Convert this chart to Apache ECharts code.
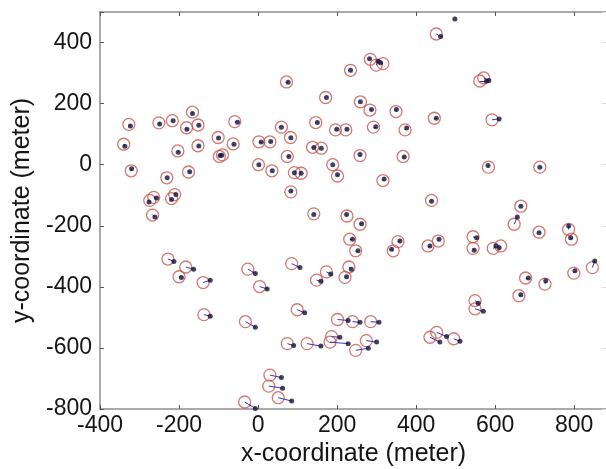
<!DOCTYPE html>
<html>
<head>
<meta charset="utf-8">
<script src="https://cdn.jsdelivr.net/npm/echarts@6/dist/echarts.min.js"></script>
<style>
  html, body { margin: 0; padding: 0; background: #ffffff; }
  #chart { width: 606px; height: 469px; }
</style>
</head>
<body>
<div id="chart"></div>
<script>
// Surveyed node positions (meters): drawn as open red circles
const observed = [
  [-327,132],[-340,67],[-321,-20],[-251,137],[-217,144],[-166,172],[-181,121],[-152,130],
  [-203,45],[-152,62],[-231,-43],[-176,-24],[-101,89],[-59,141],[-63,68],[-98,27],[-90,32],
  [2,75],[30,75],[59,123],[82,89],[72,271],[74,27],[1,0],[35,-20],[92,-26],[109,-28],[83,-89],
  [146,138],[171,220],[138,57],[160,54],[196,114],[222,114],[189,0],[201,-37],
  [451,428],[284,345],[299,326],[316,331],[234,309],[561,274],[571,284],[259,206],[283,179],
  [349,174],[446,152],[592,147],[292,123],[372,114],[258,30],[367,27],[316,-52],[583,-8],[713,-8],
  [-274,-117],[-264,-107],[-219,-111],[-211,-98],[-267,-165],[141,-161],
  [-228,-309],[-183,-335],[-200,-367],[-139,-386],[-137,-491],[-26,-342],[4,-399],[-32,-514],
  [85,-324],[99,-475],[148,-378],[173,-351],[201,-507],[74,-586],[124,-586],[186,-563],[182,-581],
  [30,-689],[27,-725],[51,-763],[-34,-777],
  [439,-117],[225,-168],[258,-195],[232,-244],[247,-282],[230,-335],[220,-369],[342,-282],
  [354,-252],[430,-266],[456,-250],[544,-236],[544,-274],[595,-274],[614,-266],[648,-195],
  [665,-136],[711,-221],[786,-212],[793,-244],[677,-371],[726,-391],[660,-429],[799,-355],
  [846,-337],[549,-445],[549,-472],[239,-514],[285,-514],[274,-576],[247,-608],[435,-565],
  [452,-549],[495,-570]
];

// Estimated positions (meters), same order as observed: dark dots
const estimated = [
  [-323,127],[-337,60],[-320,-13],[-249,133],[-215,144],[-166,168],[-180,116],[-150,129],
  [-202,41],[-150,61],[-230,-43],[-173,-23],[-100,87],[-52,139],[-61,67],[-96,30],[-92,31],
  [8,74],[32,76],[59,123],[83,88],[76,270],[78,27],[2,0],[36,-20],[92,-26],[109,-28],[83,-86],
  [150,138],[173,220],[141,56],[160,54],[199,116],[225,116],[189,0],[201,-33],
  [462,420],[282,347],[304,339],[310,334],[234,309],[578,274],[584,276],[259,206],[287,181],
  [350,181],[451,152],[610,150],[298,124],[376,120],[258,33],[370,25],[319,-47],[582,-3],[713,-8],
  [-276,-122],[-257,-109],[-219,-114],[-208,-98],[-261,-171],[141,-163],
  [-213,-317],[-163,-342],[-194,-369],[-121,-378],[-121,-496],[-7,-356],[23,-407],[-7,-532],
  [106,-337],[118,-485],[159,-382],[184,-358],[228,-510],[90,-592],[159,-594],[207,-565],[228,-586],
  [59,-697],[62,-732],[85,-774],[-7,-798],
  [439,-120],[224,-163],[262,-193],[239,-244],[253,-282],[236,-342],[224,-367],[338,-277],
  [359,-250],[435,-266],[458,-244],[553,-239],[547,-280],[602,-266],[610,-272],[656,-171],
  [665,-136],[711,-223],[786,-201],[791,-239],[684,-371],[728,-380],[665,-426],[802,-347],
  [852,-315],[557,-454],[570,-480],[258,-516],[306,-516],[300,-581],[279,-601],[460,-581],
  [477,-563],[511,-578]
];

// Estimate with no surveyed counterpart
const unpairedEstimates = [[498,477]];

const xTicks = [-400, -200, 0, 200, 400, 600, 800];
const yTicks = [-800, -600, -400, -200, 0, 200, 400];

const FONT = '"Liberation Sans", Arial, sans-serif';
const AXIS_GRAY = '#8e8e8e';

const errorSegments = observed.map((p, i) => ({ coords: [p, estimated[i]] }));

const tickFormatter = list => v => (list.indexOf(v) >= 0 ? String(v) : '');

const baseAxisLine = { show: true, onZero: false, lineStyle: { color: AXIS_GRAY, width: 1.5 } };
const baseTick = { show: true, inside: true, length: 4, lineStyle: { color: '#555', width: 1 } };

const chart = echarts.init(document.getElementById('chart'), null, { renderer: 'canvas' });

chart.setOption({
  animation: false,
  backgroundColor: '#ffffff',
  grid: { left: 100, right: -1, top: 12, bottom: 60, containLabel: false, outerBoundsMode: 'none' },
  xAxis: [
    {
      type: 'value', position: 'bottom', min: -400, max: 883, interval: 200,
      axisLine: baseAxisLine, axisTick: baseTick, splitLine: { show: false },
      axisLabel: { formatter: tickFormatter(xTicks), color: '#151515', fontSize: 23, fontFamily: FONT, margin: 5 },
      name: 'x-coordinate (meter)', nameLocation: 'middle', nameGap: 32,
      nameTextStyle: { color: '#151515', fontSize: 25, fontFamily: FONT }
    },
    {
      type: 'value', position: 'top', min: -400, max: 883, interval: 200,
      axisLine: baseAxisLine, axisTick: baseTick, splitLine: { show: false },
      axisLabel: { show: false }
    }
  ],
  yAxis: [
    {
      type: 'value', position: 'left', min: -800, max: 500, interval: 200,
      axisLine: baseAxisLine, axisTick: baseTick, splitLine: { show: false },
      axisLabel: { formatter: tickFormatter(yTicks), color: '#151515', fontSize: 23, fontFamily: FONT, margin: 8 },
      name: 'y-coordinate (meter)', nameLocation: 'middle', nameGap: 62,
      nameTextStyle: { color: '#151515', fontSize: 25, fontFamily: FONT }
    },
    {
      type: 'value', position: 'right', min: -800, max: 500, interval: 200,
      axisLine: baseAxisLine,
      axisTick: { show: true, inside: true, length: 5, lineStyle: { color: '#dedede', width: 1 } },
      splitLine: { show: false }, axisLabel: { show: false }
    }
  ],
  series: [
    {
      name: 'surveyed',
      type: 'scatter',
      xAxisIndex: 0, yAxisIndex: 0,
      symbol: 'circle', symbolSize: 12,
      itemStyle: { color: 'rgba(255,255,255,0)', borderColor: '#c9554d', borderWidth: 1.3 },
      data: observed,
      z: 2
    },
    {
      name: 'error',
      type: 'lines',
      coordinateSystem: 'cartesian2d',
      xAxisIndex: 0, yAxisIndex: 0,
      lineStyle: { color: '#3535b5', width: 1, opacity: 1, curveness: 0 },
      data: errorSegments,
      silent: true,
      z: 3
    },
    {
      name: 'estimated',
      type: 'scatter',
      xAxisIndex: 0, yAxisIndex: 0,
      symbol: 'circle', symbolSize: 5,
      itemStyle: { color: '#12123c' },
      data: estimated.concat(unpairedEstimates),
      z: 4
    }
  ]
});
</script>
</body>
</html>
